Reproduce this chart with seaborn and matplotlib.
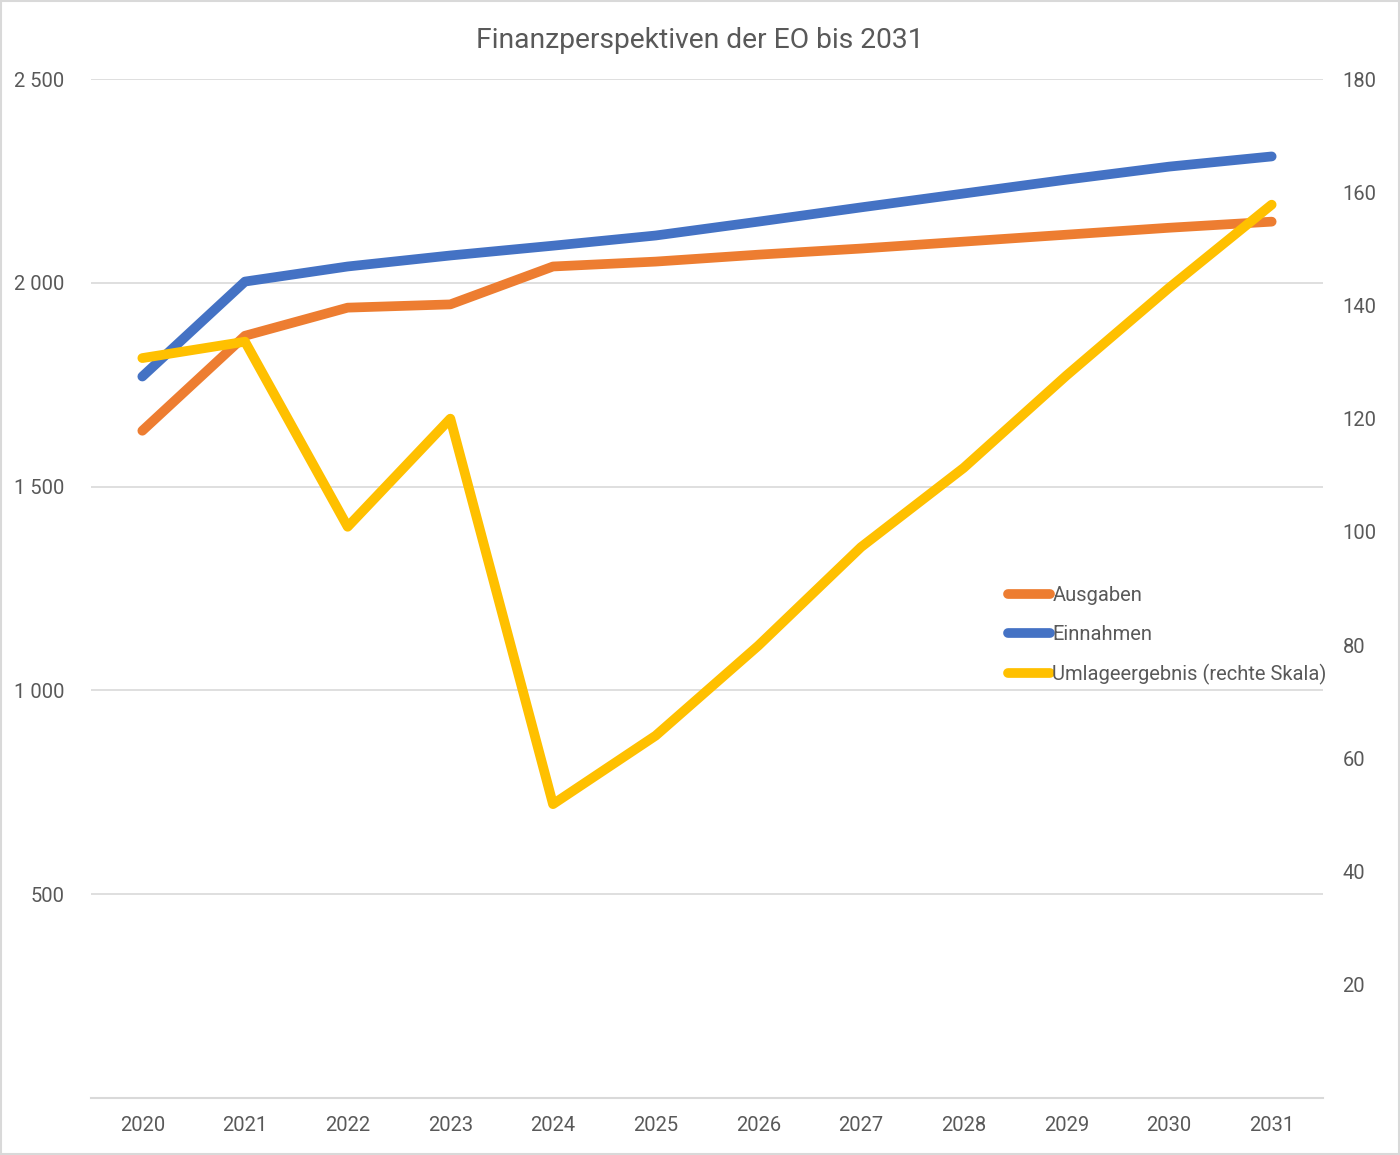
import matplotlib
matplotlib.use("Agg")
import matplotlib.pyplot as plt
import seaborn as sns
from matplotlib.ticker import FuncFormatter, MultipleLocator
from matplotlib.patches import Rectangle

# Data
years = [2020, 2021, 2022, 2023, 2024, 2025, 2026, 2027, 2028, 2029, 2030, 2031]
ausgaben = [1637, 1870, 1939, 1947, 2040, 2052, 2069, 2084, 2101, 2118, 2135, 2150]
einnahmen = [1770, 2003, 2040, 2067, 2091, 2116, 2150, 2185, 2219, 2253, 2285, 2310]
umlage = [130.7, 133.6, 100.9, 120.0, 51.9, 64.0, 79.9, 97.3, 111.3, 127.6, 143.1, 157.8]

TEXT_COLOR = "#595959"
GRID_COLOR = "#d9d9d9"
LW = 7

sns.set_style("white")
plt.rcParams["font.family"] = ["Roboto", "DejaVu Sans"]

fig = plt.figure(figsize=(14, 11.55), dpi=100)
ax = fig.add_axes([0.065, 0.0494, 0.88, 0.8822])
ax2 = ax.twinx()

sns.lineplot(x=years, y=ausgaben, ax=ax, color="#ED7D31", linewidth=LW,
             solid_capstyle="round", label="Ausgaben", legend=False)
sns.lineplot(x=years, y=einnahmen, ax=ax, color="#4472C4", linewidth=LW,
             solid_capstyle="round", label="Einnahmen", legend=False)
sns.lineplot(x=years, y=umlage, ax=ax2, color="#FFC000", linewidth=LW,
             solid_capstyle="round", label="Umlageergebnis (rechte Skala)", legend=False)

ax.set_xlim(2019.5, 2031.5)
ax.set_ylim(0, 2500)
ax2.set_ylim(0, 180)
ax.set_xticks(years)
ax.set_xticklabels([str(y) for y in years])
ax.yaxis.set_major_locator(MultipleLocator(500))
ax2.yaxis.set_major_locator(MultipleLocator(20))


def fmt_left(v, pos):
    if v == 0:
        return ""
    return f"{int(v):,}".replace(",", " ")


def fmt_right(v, pos):
    if v == 0:
        return ""
    return f"{int(v)}"


ax.yaxis.set_major_formatter(FuncFormatter(fmt_left))
ax2.yaxis.set_major_formatter(FuncFormatter(fmt_right))

ax.grid(axis="y", color=GRID_COLOR, linewidth=1.2)
ax.grid(axis="x", visible=False)
ax2.grid(False)
for a in (ax, ax2):
    for s in a.spines.values():
        s.set_visible(False)
    a.set_xlabel("")
    a.set_ylabel("")
ax.spines["bottom"].set_visible(True)
ax.spines["bottom"].set_color(GRID_COLOR)
ax.spines["bottom"].set_linewidth(1.5)

ax.tick_params(axis="x", length=0, pad=13, labelsize=14.5, labelcolor=TEXT_COLOR)
ax.tick_params(axis="y", length=0, pad=19, labelsize=14.5, labelcolor=TEXT_COLOR)
ax2.tick_params(axis="y", length=0, pad=14, labelsize=14.5, labelcolor=TEXT_COLOR)

fig.suptitle("Finanzperspektiven der EO bis 2031", y=0.977, fontsize=20.3,
             color=TEXT_COLOR)

handles = ax.get_lines()[:2] + ax2.get_lines()[:1]
labels = ["Ausgaben", "Einnahmen", "Umlageergebnis (rechte Skala)"]
leg = ax2.legend(handles, labels, loc="upper left",
                 bbox_to_anchor=(0.72, 0.4926), bbox_transform=fig.transFigure,
                 frameon=False, fontsize=14.5, handlelength=2.1,
                 handletextpad=0.1, labelspacing=0.98, borderpad=0,
                 borderaxespad=0)
for t in leg.get_texts():
    t.set_color(TEXT_COLOR)
for h in leg.legend_handles:
    h.set_solid_capstyle("round")

# light border around the chart area
fig.patches.append(Rectangle((0.001, 0.001), 0.998, 0.998, transform=fig.transFigure,
                             fill=False, edgecolor=GRID_COLOR, linewidth=1.5))

fig.savefig("out.png", dpi=100)
